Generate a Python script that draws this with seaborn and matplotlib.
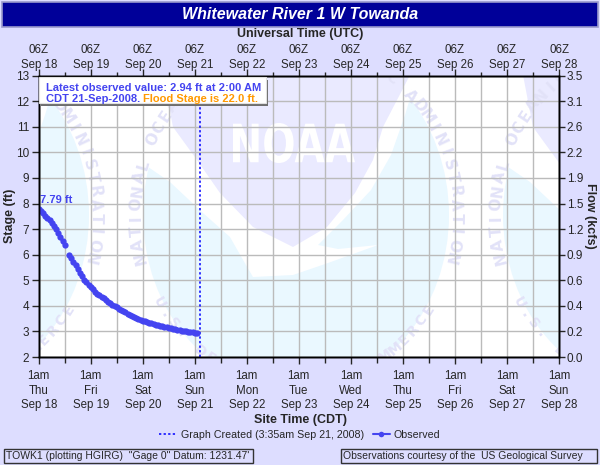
import numpy as np
import pandas as pd
import matplotlib
matplotlib.use("Agg")
import matplotlib.pyplot as plt
from matplotlib.patches import Rectangle, Polygon, Ellipse, PathPatch
from matplotlib.lines import Line2D
from matplotlib.textpath import TextPath
from matplotlib.font_manager import FontProperties
from matplotlib.transforms import Affine2D
import seaborn as sns

# ---------------- data (hours after 1am CDT Thu Sep 18, 2008) ----------------
obs_hours_a = [0, 1, 2, 3, 4, 5, 6, 7, 8, 9, 10, 11, 12]
obs_stage_a = [7.79, 7.71, 7.62, 7.53, 7.44, 7.34, 7.24, 7.13, 7.01, 6.86, 6.69, 6.53, 6.38]
obs_hours_b = list(range(14, 74))
obs_stage_b = [5.99, 5.86, 5.73, 5.58, 5.43, 5.29, 5.16, 5.03, 4.93, 4.83,
               4.74, 4.65, 4.56, 4.48, 4.41, 4.35, 4.29, 4.22, 4.16, 4.10,
               4.04, 3.99, 3.94, 3.89, 3.85, 3.80, 3.75, 3.70, 3.66, 3.61,
               3.57, 3.53, 3.48, 3.44, 3.42, 3.39, 3.36, 3.33, 3.31, 3.29,
               3.27, 3.24, 3.22, 3.20, 3.18, 3.16, 3.14, 3.12, 3.10, 3.08,
               3.06, 3.05, 3.03, 3.02, 3.00, 2.99, 2.97, 2.96, 2.95, 2.94]
stage_ticks = [2, 3, 4, 5, 6, 7, 8, 9, 10, 11, 12, 13]
flow_labels = ["0.0", "0.2", "0.4", "0.6", "0.9", "1.2", "1.5", "1.9", "2.2", "2.6", "3.1", "3.5"]
day_hours = [0, 24, 48, 72, 96, 120, 144, 168, 192, 216, 240]
weekdays = ["Thu", "Fri", "Sat", "Sun", "Mon", "Tue", "Wed", "Thu", "Fri", "Sat", "Sun"]
dates = ["Sep 18", "Sep 19", "Sep 20", "Sep 21", "Sep 22", "Sep 23", "Sep 24",
         "Sep 25", "Sep 26", "Sep 27", "Sep 28"]
cdt_labels = [f"1am\n{w}\n{d}" for w, d in zip(weekdays, dates)]
utc_labels = [f"06Z\n{d}" for d in dates]
graph_created_hour = 74.58
peak_value = 7.79
latest_value = 2.94
flood_stage = 22.0

title = "Whitewater River 1 W Towanda"

# ---------------- style ----------------
sns.set_style("ticks")
plt.rcParams['font.family'] = ['Liberation Sans', 'DejaVu Sans']
BG = '#DDDDFF'
BLUE = '#4444F0'

W_PX, H_PX = 600, 465
fig = plt.figure(figsize=(6, 4.65), dpi=100, facecolor=BG)

def fx(x):
    return x / W_PX

def fy(y):
    return 1 - y / H_PX

X0, X1, Y0, Y1 = 38.7, 559.0, 75.7, 357.0
rect = [fx(X0), fy(Y1), fx(X1) - fx(X0), fy(Y0) - fy(Y1)]

# ---------------- watermark (NOAA logo, faint) ----------------
bg = fig.add_axes(rect, zorder=0)
bg.set_xlim(X0, X1)
bg.set_ylim(Y1, Y0)
bg.set_facecolor('white')
bg.set_xticks([]); bg.set_yticks([])
for s in bg.spines.values():
    s.set_visible(False)

CYAN = '#EAF8FF'
LAV = '#EAEAFF'
RING = '#E2E2F8'

noaa_path = TextPath((0, 0), "NOAA", size=50,
                     prop=FontProperties(family='DejaVu Sans', weight='bold'))
ext = noaa_path.get_extents()

def logo(cx, cy):
    bg.add_patch(Ellipse((cx, cy), 306, 350, fc=CYAN, ec='none', zorder=1))
    bird = [(-178, -160), (-158, -55), (-126, -33), (-93, -2), (-66, 22), (-50, 50),
            (-43, 62), (-3, 60), (32, 48), (82, 30), (42, 34), (22, 30), (47, 5),
            (75, -25), (95, -60), (109, -100), (127, -160)]
    bg.add_patch(Polygon([(cx + a, cy + b) for a, b in bird], closed=True,
                         fc='white', ec='none', zorder=2))
    dome = [(-3, 32), (31, 12), (59, -22), (77, -55), (87, -88), (114, -140), (117, -260),
            (-133, -260), (-133, -140), (-123, -88), (-99, -55), (-76, -22), (-43, 12)]
    bg.add_patch(Polygon([(cx + a, cy + b) for a, b in dome], closed=True,
                         fc=LAV, ec='none', zorder=3))
    tr = (Affine2D().translate(-ext.x0, -ext.y0)
          .scale(122 / ext.width, -40 / ext.height)
          .translate(cx - 63, cy - 52))
    bg.add_patch(PathPatch(tr.transform_path(noaa_path), fc='white', ec='none', zorder=4))
    rx, ry = 160, 170
    top_txt = "NATIONAL OCEANIC AND ATMOSPHERIC ADMINISTRATION"
    ts = np.radians(np.linspace(194.6, -14.6, len(top_txt)))
    for ch, t in zip(top_txt, ts):
        ang = np.degrees(np.arctan2(-ry * np.cos(t), rx * np.sin(t)))
        bg.text(cx + rx * np.cos(t), cy - ry * np.sin(t), ch, color=RING, fontsize=11,
                fontweight='bold', family='DejaVu Sans', rotation=ang,
                rotation_mode='anchor', ha='center', va='center', zorder=5, clip_on=True)
    bot_txt = "U.S. DEPARTMENT OF COMMERCE"
    ts = np.radians(np.linspace(211, 326, len(bot_txt)))
    for ch, t in zip(bot_txt, ts):
        ang = np.degrees(np.arctan2(ry * np.cos(t), -rx * np.sin(t)))
        bg.text(cx + rx * np.cos(t), cy - ry * np.sin(t), ch, color=RING, fontsize=10,
                fontweight='bold', family='DejaVu Sans', rotation=ang,
                rotation_mode='anchor', ha='center', va='center', zorder=5, clip_on=True)

for c in (-64, 296, 656):
    logo(c, 215)

# ---------------- main axes ----------------
ax = fig.add_axes(rect, zorder=1)
ax.set_facecolor('none')

df = pd.DataFrame({
    'hour': obs_hours_a + obs_hours_b,
    'stage': obs_stage_a + obs_stage_b,
    'segment': [0] * len(obs_hours_a) + [1] * len(obs_hours_b),
})
sns.lineplot(data=df, x='hour', y='stage', units='segment', estimator=None, sort=False,
             color=BLUE, marker='o', markersize=4.5, markeredgewidth=0, linewidth=2.0,
             ax=ax, legend=False, zorder=4)

ax.axvline(graph_created_hour, color='#0000FF', lw=1.1, ls=(0, (1.5, 1.5)), zorder=3)

ax.set_xlim(day_hours[0], day_hours[-1])
ax.set_ylim(stage_ticks[0], stage_ticks[-1])
ax.set_xticks(day_hours)
ax.set_xticks([h + 12 for h in day_hours[:-1]], minor=True)
ax.set_xticklabels(cdt_labels, fontsize=8.3, linespacing=1.27)
ax.set_yticks(stage_ticks)
ax.set_yticklabels([str(v) for v in stage_ticks], fontsize=8.5)
ax.grid(which='both', color='#BBBBBB', lw=1.0)
ax.set_axisbelow(True)
ax.tick_params(axis='x', which='major', direction='out', length=5, width=1, pad=4.5)
ax.tick_params(axis='x', which='minor', direction='out', length=4, width=1)
ax.tick_params(axis='y', direction='out', length=5, width=1, pad=2)
ax.set_xlabel("")
ax.set_ylabel("")
for s in ax.spines.values():
    s.set_color('black')
    s.set_linewidth(1.0)

ax.text(0.8, 7.93, f"{peak_value} ft", color=BLUE, fontsize=8, fontweight='bold',
        va='bottom', ha='left', zorder=5)

# top UTC axis
axt = ax.twiny()
axt.set_xlim(ax.get_xlim())
axt.set_xticks(day_hours)
axt.set_xticks([h + 12 for h in day_hours[:-1]], minor=True)
axt.set_xticklabels(utc_labels, fontsize=8.3, linespacing=1.3)
axt.tick_params(axis='x', which='major', direction='out', length=5, width=1, pad=-1.5)
axt.tick_params(axis='x', which='minor', direction='out', length=3, width=1)

# right flow axis
axr = ax.twinx()
axr.set_ylim(ax.get_ylim())
axr.set_yticks(stage_ticks)
axr.set_yticklabels(flow_labels, fontsize=8.5)
axr.tick_params(axis='y', direction='out', length=4, width=1, pad=1.5)
for a in (axt, axr):
    for s in a.spines.values():
        s.set_color('black')
        s.set_linewidth(1.0)

# ---------------- title bar & axis titles ----------------
fig.patches.append(Rectangle((fx(2), fy(27)), fx(596), fy(2) - fy(27), transform=fig.transFigure,
                             fc='#000099', ec='#9999CC', lw=1.2, zorder=5))
fig.text(0.5, fy(14.5), title, color='white', fontsize=11.5, fontweight='bold',
         style='italic', ha='center', va='center', zorder=6)
fig.text(0.5, fy(34), "Universal Time (UTC)", fontsize=9, fontweight='bold',
         ha='center', va='center')
fig.text(0.5, fy(420), "Site Time (CDT)", fontsize=9, fontweight='bold',
         ha='center', va='center')
fig.text(fx(10), fy(216), "Stage (ft)", fontsize=9, fontweight='bold', rotation=90,
         ha='center', va='center')
fig.text(fx(590), fy(216), "Flow (kcfs)", fontsize=9, fontweight='bold', rotation=270,
         ha='center', va='center')

# ---------------- latest value box ----------------
fig.patches.append(Rectangle((fx(41), fy(106)), fx(268) - fx(41), fy(80) - fy(106),
                             transform=fig.transFigure, fc='#6E6E6E', ec='none', zorder=7))
fig.patches.append(Rectangle((fx(38.5), fy(103)), fx(265.5) - fx(38.5), fy(77) - fy(103),
                             transform=fig.transFigure, fc='white', ec='#E0E0E0', lw=0.8,
                             zorder=8))
fig.text(fx(46), fy(87.5), f"Latest observed value: {latest_value} ft at 2:00 AM",
         color=BLUE, fontsize=8, fontweight='bold', ha='left', va='center', zorder=9)
t_blue = fig.text(fx(46), fy(99.5), "CDT 21-Sep-2008. ", color=BLUE, fontsize=8,
                  fontweight='bold', ha='left', va='center', zorder=9)
fig.canvas.draw()
bb = t_blue.get_window_extent()
fig.text(bb.x1 / fig.bbox.width, fy(99.5), f"Flood Stage is {flood_stage} ft.",
         color='#FF9900', fontsize=8, fontweight='bold', ha='left', va='center', zorder=9)

# ---------------- legend ----------------
handles = [Line2D([], [], color='#0000FF', lw=1.1, ls=(0, (1.5, 1.5))),
           Line2D([], [], color=BLUE, lw=1.5, marker='o', markersize=4, markeredgewidth=0)]
fig.legend(handles, ["Graph Created (3:35am Sep 21, 2008)", "Observed"], ncol=2,
           loc='center', bbox_to_anchor=(0.5, fy(435)), frameon=False, fontsize=7.7,
           handlelength=1.6, handletextpad=0.4, columnspacing=0.8)

# ---------------- footer boxes ----------------
fig.patches.append(Rectangle((fx(4), fy(463)), fx(253) - fx(4), fy(449) - fy(463),
                             transform=fig.transFigure, fc='none', ec='#333333', lw=1.0, zorder=5))
fig.text(fx(6), fy(456), "TOWK1 (plotting HGIRG)  \"Gage 0\" Datum: 1231.47'", fontsize=7.5,
         ha='left', va='center')
fig.patches.append(Rectangle((fx(341), fy(463)), fx(597) - fx(341), fy(449) - fy(463),
                             transform=fig.transFigure, fc='none', ec='#333333', lw=1.0, zorder=5))
fig.text(fx(343), fy(456), "Observations courtesy of the  US Geological Survey", fontsize=7.5,
         ha='left', va='center')

fig.savefig("out.png", dpi=100, facecolor=BG)
